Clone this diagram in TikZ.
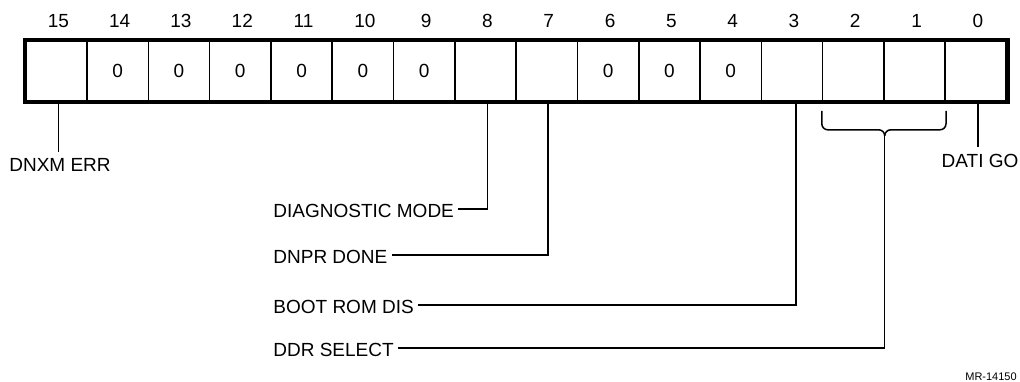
\documentclass[tikz,border=0pt]{standalone}
\usepackage{fontspec}
\setmainfont{Liberation Sans}
\usetikzlibrary{calc}
\begin{document}
\begin{tikzpicture}[x=0.5pt,y=-0.5pt,
  cell/.style={draw,line width=0.8pt,minimum width=30.65pt,minimum height=30pt,inner sep=0pt,font=\fontsize{9.5}{10}\selectfont},
  num/.style={inner sep=0pt,font=\fontsize{9.5}{10}\selectfont},
  lbl/.style={inner sep=0pt,font=\fontsize{9.5}{10}\selectfont},
  wire/.style={line width=0.75pt},
]
\useasboundingbox (0,0) rectangle (1020,381);
\foreach \b/\v in {15/,14/0,13/0,12/0,11/0,10/0,9/0,8/,7/,6/0,5/0,4/0,3/,2/,1/,0/} {
  \node[cell] (c\b) at ({56.35+(15-\b)*61.3},71) {\v};
  \node[num] (n\b) at ({58.35+(15-\b)*61.3},21) {\b};
}
\draw[line width=2.2pt] (c15.north west) rectangle (c0.south east);

\node[lbl] (dnxm) at (60,165) {DNXM ERR};
\node[lbl] (dati) at (980,161) {DATI GO};
\node[lbl,anchor=west] (diag) at (273,211) {DIAGNOSTIC MODE};
\node[lbl,anchor=west] (dnpr) at (273,257) {DNPR DONE};
\node[lbl,anchor=west] (boot) at (273,307) {BOOT ROM DIS};
\node[lbl,anchor=west] (ddr) at (273,350) {DDR SELECT};
\node[font=\fontsize{5.5}{6}\selectfont,inner sep=0pt] (mr) at (991,377) {MR-14150};

\draw[wire,shorten >=3pt] ([xshift=1pt]c15.south) -- ([xshift=1pt]c15.south |- dnxm.north);
\draw[wire,shorten >=3.5pt] ([xshift=1pt]c0.south) -- ([xshift=1pt]c0.south |- dati.north);
\draw[wire] ([xshift=1pt]c8.south) |- ($(diag.east)+(4,-2)$);
\draw[wire] ([xshift=0.6pt]c7.south) |- ($(dnpr.east)+(4,-2)$);
\draw[wire] ([xshift=2pt]c3.south) |- ($(boot.east)+(4,-2)$);

\coordinate (bl) at ($(c2.south west)+(0,9)$);
\coordinate (br) at ($(c1.south east)+(0,9)$);
\coordinate (bm) at ($(c2.south east)+(0,28)$);
\coordinate (bs) at ($(bm)+(0,6)$);
\draw[wire,rounded corners=3pt] (bl) |- (bm) -- (bs);
\draw[wire,rounded corners=3pt] (br) |- (bm) -- (bs);
\draw[wire] (bs) |- ($(ddr.east)+(4,-2)$);
\end{tikzpicture}
\end{document}
